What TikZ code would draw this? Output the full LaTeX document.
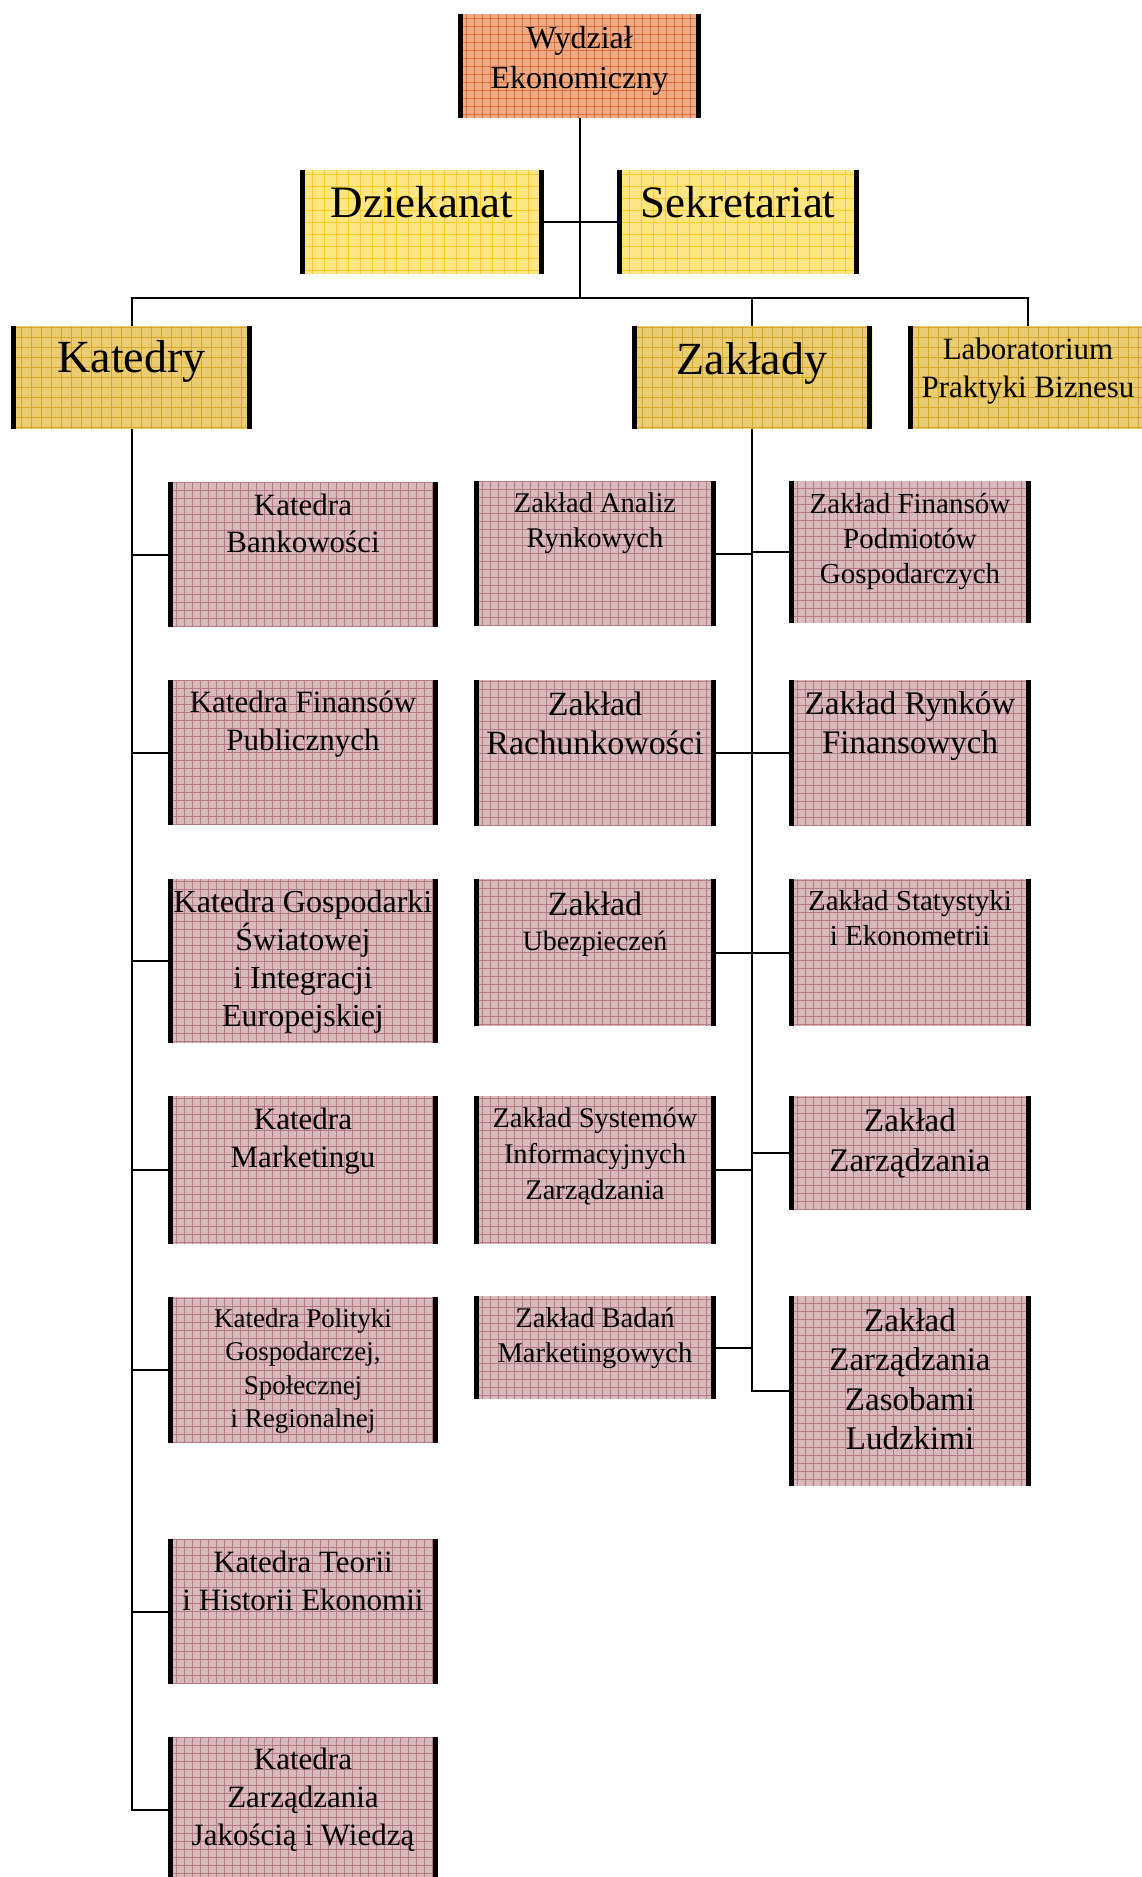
\documentclass[tikz,border=0pt]{standalone}
\usepackage{fontspec}
\setmainfont{Liberation Serif}
\usetikzlibrary{fit}
\definecolor{pinkbg}{RGB}{216,186,188}
\definecolor{pinkln}{RGB}{180,124,130}
\definecolor{orbg}{RGB}{238,170,134}
\definecolor{orln}{RGB}{216,112,60}
\definecolor{yebg}{RGB}{255,230,132}
\definecolor{yeln}{RGB}{255,202,40}
\definecolor{gobg}{RGB}{234,204,116}
\definecolor{goln}{RGB}{214,166,40}
\newcommand\fs[2]{\fontsize{#1}{#2}\selectfont}
\tikzset{
  gridbox/.style n args={3}{fill=#1, inner sep=0pt,
    path picture={\draw[#2, line width=0.8pt] (path picture bounding box.south west) grid[step=#3] (path picture bounding box.north east);}},
  pinkbox/.style={gridbox={pinkbg}{pinkln}{8pt}},
  orbox/.style={gridbox={orbg}{orln}{8pt}},
  yebox/.style={gridbox={yebg}{yeln}{12pt}},
  gobox/.style={gridbox={gobg}{goln}{10pt}},
  sidebar/.style={line width=5.5pt, black},
  conn/.style={line width=2pt, black},
}
\newcommand\obox[7]{%
  \node[fit={#3 #4}, #2] (#1) {};
  \draw[sidebar] ([xshift=2.75pt]#1.north west) -- ([xshift=2.75pt]#1.south west);
  \draw[sidebar] ([xshift=-2.75pt]#1.north east) -- ([xshift=-2.75pt]#1.south east);
  \node[anchor=north, inner sep=0pt, align=center, font=#6] (#1-t) at ([yshift=-#5pt]#1.north) {\rule{0pt}{1em}#7};
}
\begin{document}
\begin{tikzpicture}[x=1pt,y=-1pt]
\useasboundingbox (0,0) rectangle (1141,1877);
% top levels
\obox{wydz}{orbox}{(458,14)}{(701,118)}{2}{\fs{32}{40}}{Wydział\\Ekonomiczny}
\obox{dziek}{yebox}{(300,170)}{(544,274)}{2}{\fs{45}{52}}{Dziekanat}
\obox{sekr}{yebox}{(617,170)}{(859,274)}{2}{\fs{45}{52}}{Sekretariat}
\obox{katedry}{gobox}{(11,326)}{(252,429)}{0}{\fs{46}{52}}{Katedry}
\obox{zaklady}{gobox}{(632,326)}{(872,429)}{2}{\fs{46}{52}}{Zakłady}
\obox{lab}{gobox}{(908,326)}{(1148,429)}{2}{\fs{31}{38}}{Laboratorium\\Praktyki Biznesu}
% katedry column
\obox{k1}{pinkbox}{(168,482)}{(438,627)}{2}{\fs{31}{37.5}}{Katedra\\Bankowości}
\obox{k2}{pinkbox}{(168,680)}{(438,825)}{1.5}{\fs{31}{38}}{Katedra Finansów\\Publicznych}
\obox{k3}{pinkbox}{(168,879)}{(438,1043)}{1}{\fs{32}{38.3}}{Katedra Gospodarki\\Światowej\\i Integracji\\Europejskiej}
\obox{k4}{pinkbox}{(168,1096)}{(438,1244)}{2.5}{\fs{31}{38}}{Katedra\\Marketingu}
\obox{k5}{pinkbox}{(168,1297)}{(438,1443)}{3}{\fs{27}{33.5}}{Katedra Polityki\\Gospodarczej,\\Społecznej\\i Regionalnej}
\obox{k6}{pinkbox}{(168,1539)}{(438,1684)}{2}{\fs{31}{38}}{Katedra Teorii\\i Historii Ekonomii}
\obox{k7}{pinkbox}{(168,1737)}{(438,1882)}{1}{\fs{31}{38}}{Katedra\\Zarządzania\\Jakością i Wiedzą}
% middle column
\obox{m1}{pinkbox}{(474,481)}{(716,626)}{2.5}{\fs{28.5}{35}}{Zakład Analiz\\Rynkowych}
\obox{m2}{pinkbox}{(474,680)}{(716,826)}{1.5}{\fs{34}{39}}{Zakład\\Rachunkowości}
\obox{m3}{pinkbox}{(474,879)}{(716,1026)}{2}{\fs{34}{35}}{Zakład\\\fs{28}{35}Ubezpieczeń}
\obox{m4}{pinkbox}{(474,1096)}{(716,1244)}{3}{\fs{28.5}{36}}{Zakład Systemów\\Informacyjnych\\Zarządzania}
\obox{m5}{pinkbox}{(474,1296)}{(716,1399)}{3}{\fs{28.5}{35}}{Zakład Badań\\Marketingowych}
% right column
\obox{r1}{pinkbox}{(789,481)}{(1031,623)}{3}{\fs{29}{35}}{Zakład Finansów\\Podmiotów\\Gospodarczych}
\obox{r2}{pinkbox}{(789,680)}{(1031,826)}{1}{\fs{33}{39}}{Zakład Rynków\\Finansowych}
\obox{r3}{pinkbox}{(789,879)}{(1031,1026)}{2}{\fs{29}{35.5}}{Zakład Statystyki\\i Ekonometrii}
\obox{r4}{pinkbox}{(789,1096)}{(1031,1210)}{2}{\fs{33}{40}}{Zakład\\Zarządzania}
\obox{r5}{pinkbox}{(789,1296)}{(1031,1486)}{2}{\fs{33}{39.5}}{Zakład\\Zarządzania\\Zasobami\\Ludzkimi}
% connectors
\coordinate (bus) at (0,298);
\draw[conn] (wydz.south) -- (wydz.south |- bus);
\draw[conn] (dziek.east) -- (sekr.west);
\draw[conn] (katedry.north) -- (katedry.north |- bus) -- (lab.north |- bus) -- (lab.north);
\draw[conn] (zaklady.north) -- (zaklady.north |- bus);
\draw[conn] (katedry.south) |- (k7.west);
\foreach \k in {k1,k2,k3,k4,k5,k6} \draw[conn] (\k.west) -- (\k.west -| katedry.south);
\draw[conn] (zaklady.south) |- (r5.west);
\foreach \m in {m1,m2,m3,m4,m5} \draw[conn] (\m.east) -- (\m.east -| zaklady.south);
\foreach \r in {r1,r2,r3,r4} \draw[conn] (\r.west) -- (\r.west -| zaklady.south);
\end{tikzpicture}
\end{document}
